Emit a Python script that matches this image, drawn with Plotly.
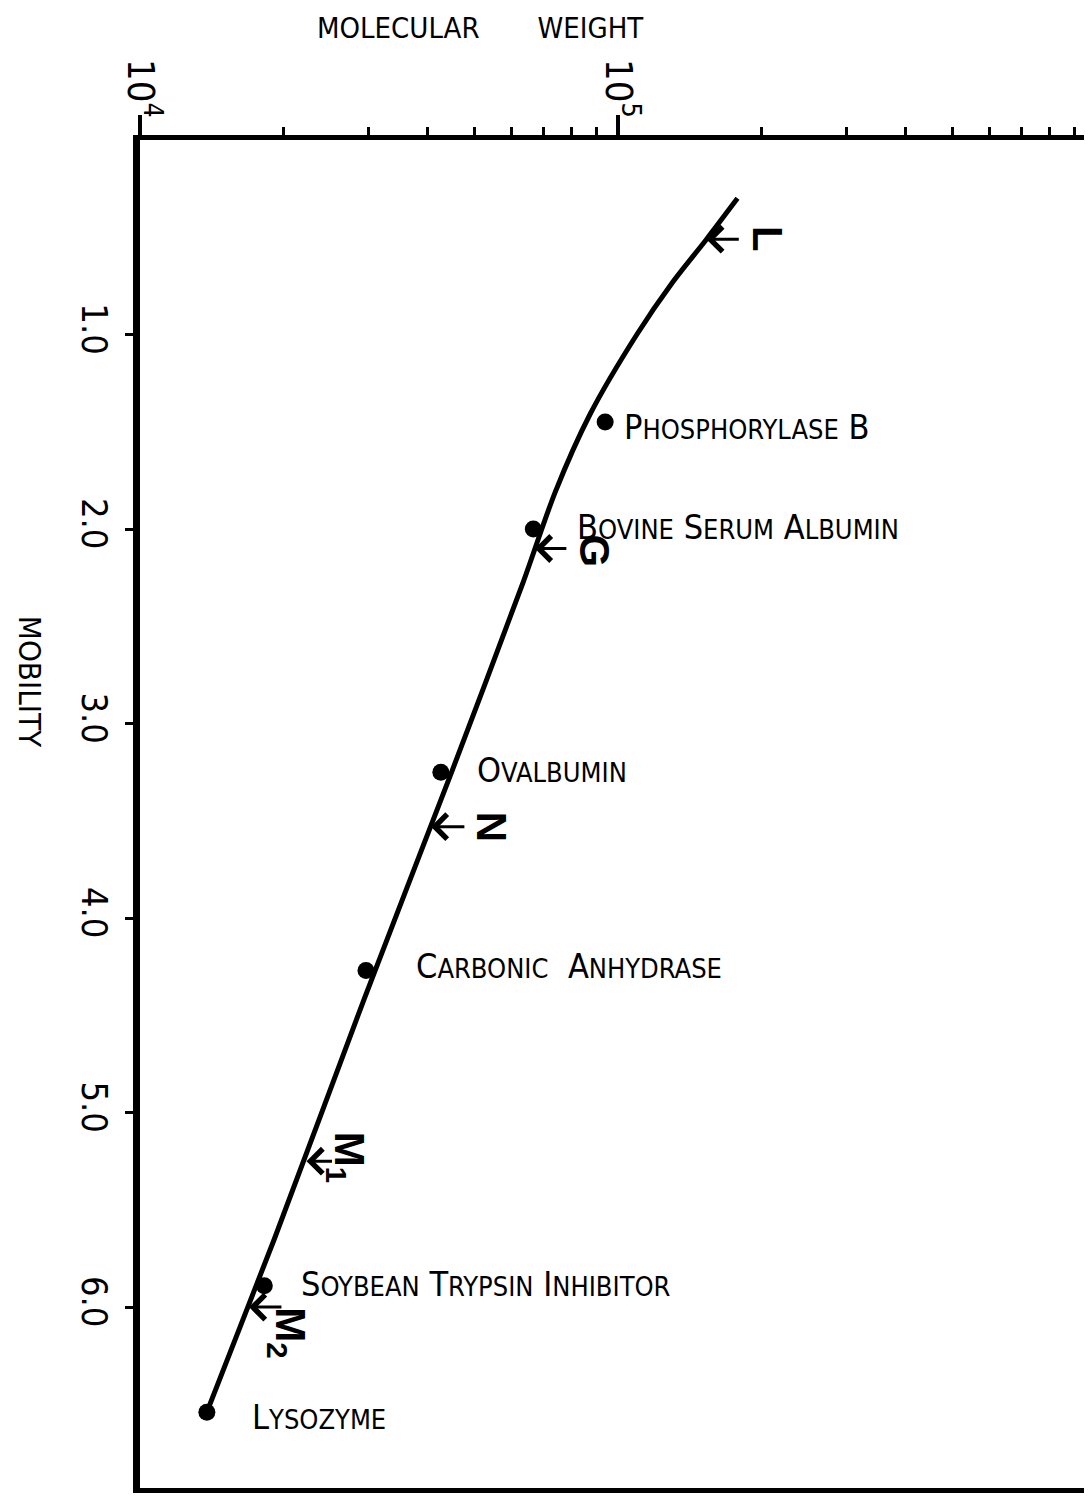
import numpy as np
import plotly.graph_objects as go

# ---- data ----
std_names = ["Phosphorylase B", "Bovine Serum Albumin", "Ovalbumin",
             "Carbonic  Anhydrase", "Soybean Trypsin Inhibitor", "Lysozyme"]
std_mw = [94000, 66500, 42600, 29700, 18200, 13800]
std_mob = [1.45, 2.00, 3.25, 4.27, 5.89, 6.54]

curve_mw = [13800, 19100, 29400, 44700, 63400, 73900, 87400, 109500, 130200, 153200, 177800]
curve_mob = [6.54, 5.65, 4.42, 3.26, 2.27, 1.81, 1.41, 1.00, 0.73, 0.51, 0.30]

band_names = ["L", "G", "N", "M<sub>1</sub>", "M<sub>2</sub>"]
band_mw = [153000, 67000, 40600, 22300, 16900]
band_mob = [0.51, 2.10, 3.53, 5.25, 6.00]

x_tickvals = [1e4, 1e5]
x_ticktext = ["10<sup>4</sup>", "10<sup>5</sup>"]
x_minorvals = [2e4, 3e4, 4e4, 5e4, 6e4, 7e4, 8e4, 9e4,
               2e5, 3e5, 4e5, 5e5, 6e5, 7e5, 8e5, 9e5]
y_tickvals = [1, 2, 3, 4, 5, 6]
y_ticktext = ["1.0", "2.0", "3.0", "4.0", "5.0", "6.0"]

# ---- styles ----
NARROW = "Liberation Sans Narrow, DejaVu Sans Condensed, Arial Narrow, sans-serif"
BOLD = "Liberation Sans, Arial, sans-serif"
BIG, SMALL = 34, 27

# label offsets (pixels) per standard, and per band
std_xshift = [17, 42, 34, 48, 35, 43]
std_yshift = [-5, 2, 2, 5, 2, -5]
band_tail = [34, 33, 35, 27, 34]
band_xshift = [62, 60, 60, 40, 39]
band_yshift = [0, -3, 0, 4, -26]


def small_caps(name):
    words = []
    for w in name.split(" "):
        if not w:
            words.append("")
            continue
        up = w.upper()
        rest = up[1:]
        if rest:
            words.append(up[0] + "<span style='font-size:%dpx'>%s</span>" % (SMALL, rest))
        else:
            words.append(up[0])
    return "&nbsp;".join(words)


fig = go.Figure()

fig.add_trace(go.Scatter(
    x=curve_mw, y=curve_mob, mode="lines",
    line=dict(color="black", width=5, shape="spline", smoothing=0.8),
    hoverinfo="skip", showlegend=False))

fig.add_trace(go.Scatter(
    x=std_mw, y=std_mob, mode="markers",
    marker=dict(color="black", size=17),
    text=std_names, showlegend=False))

annotations = []
for name, mw, mob, xs, ys in zip(std_names, std_mw, std_mob, std_xshift, std_yshift):
    annotations.append(dict(
        x=np.log10(mw), y=mob, xref="x", yref="y", text=small_caps(name),
        showarrow=False, xanchor="left", yanchor="middle",
        xshift=xs, yshift=ys,
        font=dict(family=NARROW, size=BIG, color="black")))

for name, mw, mob, tail, xs, ys in zip(band_names, band_mw, band_mob,
                                        band_tail, band_xshift, band_yshift):
    annotations.append(dict(
        x=np.log10(mw), y=mob, xref="x", yref="y", text="",
        showarrow=True, ax=tail, ay=0, axref="pixel", ayref="pixel",
        arrowhead=4, arrowsize=1.6, arrowwidth=3, arrowcolor="black",
        standoff=0, startstandoff=0))
    annotations.append(dict(
        x=np.log10(mw), y=mob, xref="x", yref="y", text="<b>%s</b>" % name,
        showarrow=False, textangle=90, xanchor="center", yanchor="middle",
        xshift=xs, yshift=ys,
        font=dict(family=BOLD, size=42, color="black")))

# axis titles (page has an 8px body margin; figure is offset by it)
annotations.append(dict(
    x=0.358, y=1.083, xref="paper", yref="paper",
    text="MOLECULAR&nbsp;&nbsp;&nbsp;&nbsp;&nbsp;&nbsp;&nbsp;WEIGHT", showarrow=False,
    xanchor="center", yanchor="middle",
    font=dict(family=NARROW, size=29, color="black")))
annotations.append(dict(
    x=-0.1155, y=0.598, xref="paper", yref="paper",
    text="MOBILITY", showarrow=False, textangle=90,
    xanchor="center", yanchor="middle",
    font=dict(family=NARROW, size=31, color="black")))

fig.update_layout(
    width=1084, height=1493, autosize=False,
    margin=dict(l=132, r=0, t=132, b=13),
    paper_bgcolor="white", plot_bgcolor="white",
    annotations=annotations,
    showlegend=False,
    xaxis=dict(
        type="log", side="top", range=[4, 5.9916],
        showgrid=False, zeroline=False,
        showline=True, linecolor="black", linewidth=5, mirror=True,
        tickmode="array", tickvals=x_tickvals, ticktext=x_ticktext,
        ticks="outside", ticklen=20, tickwidth=4, tickcolor="black",
        tickangle=90, ticklabelstandoff=-16,
        tickfont=dict(family=NARROW, size=38, color="black"),
        minor=dict(tickvals=x_minorvals, ticks="outside", ticklen=8,
                   tickwidth=3, tickcolor="black", showgrid=False),
    ),
    yaxis=dict(
        range=[6.93, 0], showgrid=False, zeroline=False,
        showline=True, linecolor="black", linewidth=7, mirror=False,
        tickmode="array", tickvals=y_tickvals, ticktext=y_ticktext,
        ticks="outside", ticklen=8, tickwidth=3, tickcolor="black",
        tickangle=90, ticklabelstandoff=0,
        tickfont=dict(family=NARROW, size=36, color="black"),
    ),
)

fig.write_html("out.html")
